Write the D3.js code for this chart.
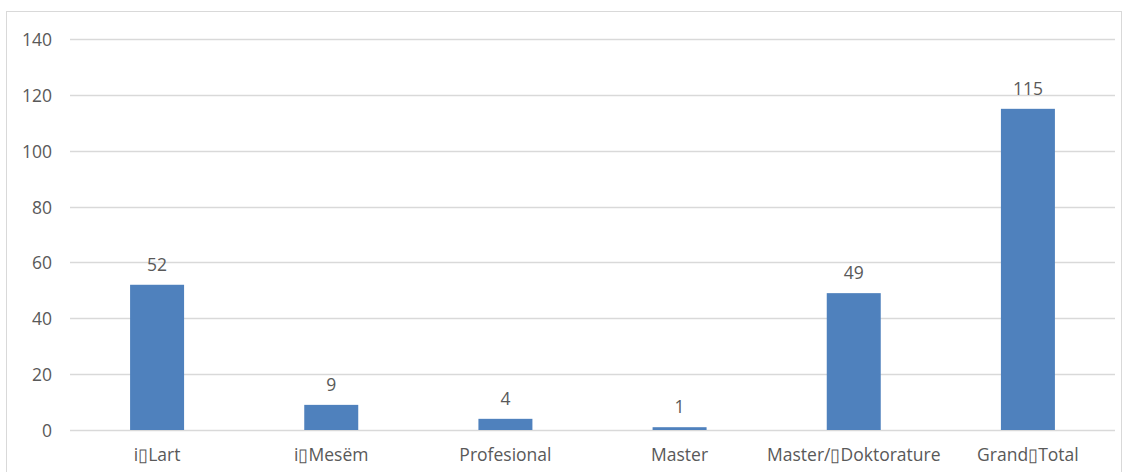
<!DOCTYPE html>
<html>
<head>
<meta charset="utf-8">
<script src="https://cdn.jsdelivr.net/npm/d3@7"></script>
<style>
  html, body { margin: 0; padding: 0; background: #ffffff; }
  svg { display: block; }
  text { font-family: "Open Sans", "Liberation Sans", sans-serif; fill: #595959; }
</style>
</head>
<body>
<svg id="chart" width="1129" height="472"></svg>
<script>
// Categories (the separator glyph is the box the source font showed for its spacing character)
const categories = ["i\u25AFLart", "i\u25AFMesëm", "Profesional", "Master", "Master/\u25AFDoktorature", "Grand\u25AFTotal"];
const values = [52, 9, 4, 1, 49, 115];
const yTicks = [0, 20, 40, 60, 80, 100, 120, 140];

const svg = d3.select("#chart");
const FONT_SIZE = 17.5;

// Outer chart frame
svg.append("rect")
  .attr("x", 6.5).attr("y", 11.5)
  .attr("width", 1115).attr("height", 470)
  .attr("fill", "#ffffff")
  .attr("stroke", "#d9d9d9").attr("stroke-width", 1);

const plot = { left: 70, right: 1115, top: 39, bottom: 430 };

const x = d3.scaleBand()
  .domain(categories)
  .range([plot.left, plot.right])
  .padding(0);

const y = d3.scaleLinear()
  .domain([0, 140])
  .range([plot.bottom, plot.top]);

// Gridlines
svg.append("g")
  .selectAll("line")
  .data(yTicks)
  .join("line")
  .attr("x1", plot.left).attr("x2", plot.right)
  .attr("y1", d => Math.round(y(d)) + 0.5)
  .attr("y2", d => Math.round(y(d)) + 0.5)
  .attr("stroke", "#d9d9d9").attr("stroke-width", 1.5);

// Y axis labels
const yAxis = d3.axisLeft(y).tickValues(yTicks).tickSize(0).tickPadding(0);
const gy = svg.append("g").attr("transform", "translate(52,0)").call(yAxis);
gy.select(".domain").remove();
gy.selectAll("text")
  .attr("font-size", FONT_SIZE)
  .attr("font-family", "\"Open Sans\", sans-serif")
  .attr("fill", "#595959")
  .attr("dy", "0.37em");

// Bars
const barW = x.bandwidth() * 0.31;
svg.append("g")
  .selectAll("rect")
  .data(values)
  .join("rect")
  .attr("x", (d, i) => x(categories[i]) + x.bandwidth() / 2 - barW / 2)
  .attr("y", d => y(d))
  .attr("width", barW)
  .attr("height", d => y(0) - y(d))
  .attr("fill", "#4f81bd");

// Value labels
svg.append("g")
  .selectAll("text")
  .data(values)
  .join("text")
  .attr("x", (d, i) => x(categories[i]) + x.bandwidth() / 2)
  .attr("y", d => y(d) - 14)
  .attr("text-anchor", "middle")
  .attr("font-size", FONT_SIZE)
  .attr("fill", "#404040")
  .text(d => d);

// Category labels
const xAxis = d3.axisBottom(x).tickSize(0).tickPadding(0);
const gx = svg.append("g").attr("transform", `translate(0,${plot.bottom})`).call(xAxis);
gx.select(".domain").remove();
gx.selectAll("text")
  .attr("font-size", FONT_SIZE)
  .attr("font-family", "\"Open Sans\", sans-serif")
  .attr("fill", "#595959")
  .attr("dy", 0)
  .attr("y", 31);
</script>
</body>
</html>
